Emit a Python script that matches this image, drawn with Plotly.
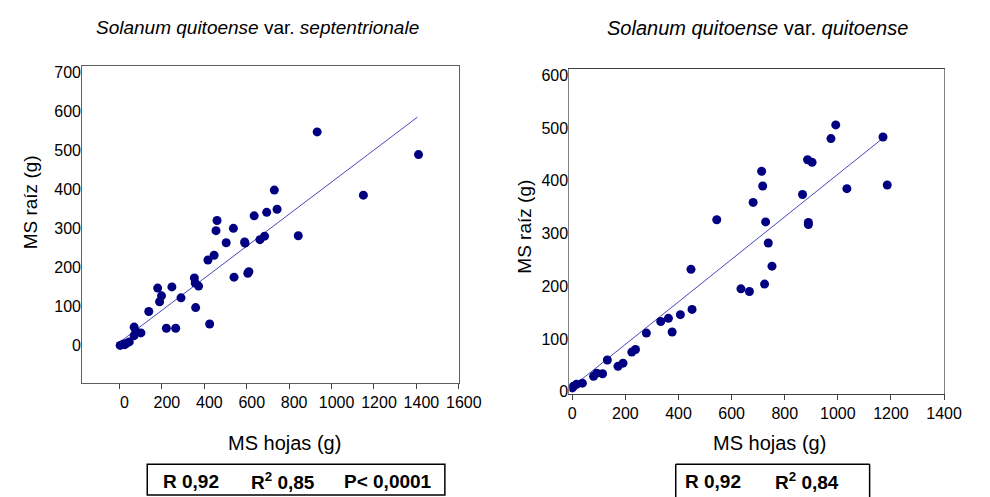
import plotly.graph_objects as go

# ---- data ----
left_x = [932, 1410, 1150, 730, 743, 694, 635, 843, 684, 662, 590, 503, 537, 460, 455, 446, 417, 610, 605, 540,
          353, 357, 373, 247, 180, 198, 189, 290, 138, 359, 425, 221, 265, 69, 77, 69, 101, 46, 31, 16, 3, 25, 592]
left_y = [547, 489, 385, 398, 349, 341, 332, 281, 280, 271, 265, 263, 300, 320, 294, 231, 219, 189, 185, 175,
          173, 160, 152, 150, 147, 127, 112, 122, 87, 97, 55, 44, 44, 47, 36, 25, 32, 9, 5, 3, 0, 2, 262]
left_fit_x = [10, 1405]
left_fit_y = [12, 585]

right_x = [992, 974, 1170, 886, 903, 713, 717, 1186, 1034, 867, 681, 544, 728, 889, 889, 738, 752, 447, 724, 635,
           667, 451, 407, 362, 333, 376, 279, 238, 224, 132, 191, 172, 114, 92, 80, 38, 16, 4, 0]
right_y = [506, 480, 483, 440, 435, 418, 390, 392, 385, 374, 359, 326, 322, 321, 317, 282, 238, 232, 204, 195,
           190, 156, 146, 139, 133, 113, 111, 80, 75, 60, 54, 48, 34, 35, 29, 16, 14, 10, 7]
right_fit_x = [0, 1185]
right_fit_y = [9, 487]

left_xticks = [0, 200, 400, 600, 800, 1000, 1200, 1400, 1600]
left_yticks = [0, 100, 200, 300, 400, 500, 600, 700]
right_xticks = [0, 200, 400, 600, 800, 1000, 1200, 1400]
right_yticks = [0, 100, 200, 300, 400, 500, 600]

left_title = "<i>Solanum quitoense</i> var. <i>septentrionale</i>"
right_title = "<i>Solanum quitoense</i> var. <i>quitoense</i>"
y_title = "MS raíz (g)"
x_title = "MS hojas (g)"
left_stats = ["R 0,92", "R<sup>2</sup> 0,85", "P&lt; 0,0001"]
right_stats = ["R 0,92", "R<sup>2</sup> 0,84"]

W, H = 990, 497
NAVY = "#000080"
LINE = "#4848b8"
FONT = "Liberation Sans, Arial, sans-serif"

def px(v):
    return v / W

def py(v):
    return 1 - v / H

fig = go.Figure()
fig.add_trace(go.Scatter(x=left_fit_x, y=left_fit_y, mode="lines", line=dict(color=LINE, width=1),
                         xaxis="x", yaxis="y", showlegend=False, hoverinfo="skip"))
fig.add_trace(go.Scatter(x=left_x, y=left_y, mode="markers", marker=dict(color=NAVY, size=9),
                         xaxis="x", yaxis="y", showlegend=False))
fig.add_trace(go.Scatter(x=right_fit_x, y=right_fit_y, mode="lines", line=dict(color=LINE, width=1),
                         xaxis="x2", yaxis="y2", showlegend=False, hoverinfo="skip"))
fig.add_trace(go.Scatter(x=right_x, y=right_y, mode="markers", marker=dict(color=NAVY, size=9),
                         xaxis="x2", yaxis="y2", showlegend=False))

tickfont = dict(family=FONT, size=16, color="#000000")

fig.update_layout(
    width=W, height=H,
    margin=dict(l=0, r=0, t=0, b=0),
    paper_bgcolor="white", plot_bgcolor="white",
    font=dict(family=FONT, color="#000000"),
    xaxis=dict(domain=[px(75), px(461)], range=[-176, 1600], anchor="y",
               tickvals=left_xticks, ticktext=[str(v) for v in left_xticks],
               ticks="outside", ticklen=5, tickcolor="#404040", ticklabelshift=5,
               showgrid=False, zeroline=False, showline=True, linecolor="#606060", linewidth=1,
               mirror=True, tickfont=tickfont),
    yaxis=dict(domain=[py(379), py(56.5)], range=[-96, 717], anchor="x",
               tickvals=left_yticks, ticktext=[str(v) for v in left_yticks],
               ticks="", ticklabelstandoff=-3, showgrid=False, zeroline=False, showline=True,
               linecolor="#606060", linewidth=1, mirror=True, tickfont=tickfont),
    xaxis2=dict(domain=[px(574.3), px(958.3)], range=[-11, 1400], anchor="y2",
                tickvals=right_xticks, ticktext=[str(v) for v in right_xticks],
                ticks="outside", ticklen=5, tickcolor="#404040",
                showgrid=False, zeroline=False, showline=True, linecolor="#404040", linewidth=1,
                mirror=True, tickfont=tickfont),
    yaxis2=dict(domain=[py(390), py(60)], range=[-4, 612], anchor="x2",
                tickvals=right_yticks, ticktext=[str(v) for v in right_yticks],
                ticks="", ticklabelstandoff=-3, showgrid=False, zeroline=False, showline=True,
                linecolor="#808080", linewidth=1, mirror=True, tickfont=tickfont),
)

ann = []
ann.append(dict(text=left_title, x=px(255), y=py(18), font=dict(size=19)))
ann.append(dict(text=right_title, x=px(767), y=py(18), font=dict(size=20)))
ann.append(dict(text=y_title, x=px(22), y=py(195), textangle=-90, font=dict(size=19)))
ann.append(dict(text=y_title, x=px(528), y=py(220), textangle=-90, font=dict(size=19)))
ann.append(dict(text=x_title, x=px(282), y=py(440), font=dict(size=20)))
ann.append(dict(text=x_title, x=px(779), y=py(440), font=dict(size=20)))
for t, cx in zip(left_stats, [187, 281, 388]):
    ann.append(dict(text="<b>" + t + "</b>", x=px(cx), y=py(479), font=dict(size=19)))
for t, cx in zip(right_stats, [721, 818]):
    ann.append(dict(text="<b>" + t + "</b>", x=px(cx), y=py(479), font=dict(size=19)))
for a in ann:
    a.update(xref="paper", yref="paper", showarrow=False, xanchor="center", yanchor="middle")
    a["font"].update(family=FONT, color="#000000")
fig.update_layout(annotations=ann)

fig.update_layout(shapes=[
    dict(type="rect", xref="paper", yref="paper", x0=px(141.7), x1=px(446.7), y0=py(493), y1=py(461.7),
         line=dict(color="#000000", width=1.5)),
    dict(type="line", xref="paper", yref="paper", x0=px(683.3), x1=px(683.3), y0=py(497), y1=py(461.7),
         line=dict(color="#000000", width=1.5)),
    dict(type="line", xref="paper", yref="paper", x0=px(683.3), x1=px(882), y0=py(461.7), y1=py(461.7),
         line=dict(color="#000000", width=1.5)),
    dict(type="line", xref="paper", yref="paper", x0=px(882), x1=px(882), y0=py(497), y1=py(461.7),
         line=dict(color="#000000", width=1.5)),
])

fig.write_html("out.html")
